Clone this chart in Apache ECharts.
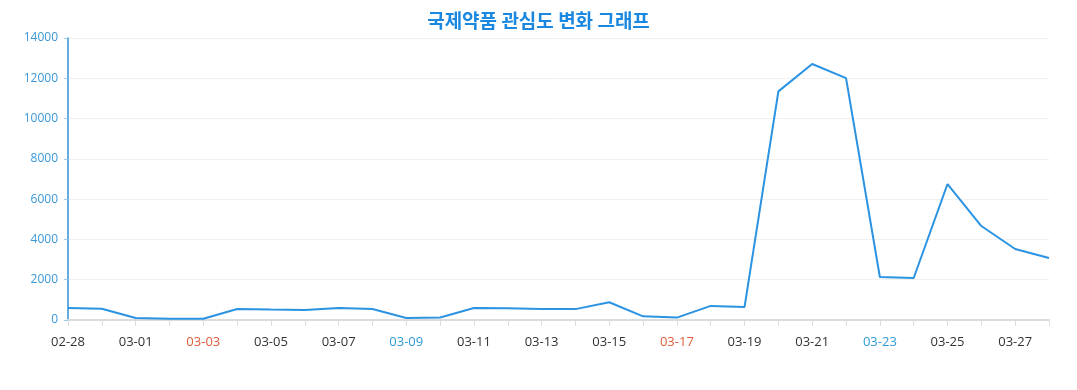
<!DOCTYPE html>
<html>
<head>
<meta charset="utf-8">
<script src="https://cdn.jsdelivr.net/npm/echarts@6/dist/echarts.min.js"></script>
<style>html,body{margin:0;padding:0;background:#fff;}#c{width:1077px;height:390px;}</style>
</head>
<body>
<div id="c"></div>
<script>
const titleText = '국제약품 관심도 변화 그래프';
const categories = ['02-28','02-29','03-01','03-02','03-03','03-04','03-05','03-06','03-07','03-08','03-09','03-10','03-11','03-12','03-13','03-14','03-15','03-16','03-17','03-18','03-19','03-20','03-21','03-22','03-23','03-24','03-25','03-26','03-27','03-28'];
const values = [600,560,100,60,60,550,520,500,600,550,100,120,600,580,550,540,880,180,120,700,650,11350,12710,12010,2135,2085,6750,4665,3525,3080];
const redLabels = ['03-03','03-17'];
const blueLabels = ['03-09','03-23'];

const chart = echarts.init(document.getElementById('c'));
const fontFamily = '"Open Sans","Noto Sans","Noto Sans CJK KR",sans-serif';
chart.setOption({
  animation: false,
  title: {
    text: titleText, left: 'center', top: 6,
    textStyle: { color: '#1a88e0', fontSize: 19, fontWeight: 'bold', fontFamily: '"Noto Sans CJK KR",sans-serif' }
  },
  grid: { left: 68, right: 28, top: 38, bottom: 70 },
  xAxis: {
    type: 'category', data: categories, boundaryGap: false,
    axisLine: { lineStyle: { color: '#dcdcdc', width: 2 } },
    axisTick: { alignWithLabel: true, interval: 0, length: 6, lineStyle: { color: '#dcdcdc' } },
    axisLabel: {
      interval: 1, margin: 16, fontSize: 13, fontFamily: fontFamily, color: '#333',
      formatter: function (v) {
        if (redLabels.indexOf(v) >= 0) return '{r|' + v + '}';
        if (blueLabels.indexOf(v) >= 0) return '{b|' + v + '}';
        return v;
      },
      rich: {
        r: { color: '#e05a3a', fontSize: 13, fontFamily: fontFamily },
        b: { color: '#2e9ad6', fontSize: 13, fontFamily: fontFamily }
      }
    }
  },
  yAxis: {
    type: 'value', min: 0, max: 14000, interval: 2000,
    axisLine: { show: true, lineStyle: { color: '#2e90d8', width: 1.5 } },
    axisTick: { show: true, length: 4, lineStyle: { color: '#9cc8ea' } },
    axisLabel: { color: '#3a98d8', fontSize: 12, fontFamily: fontFamily, margin: 10, formatter: function (v) { return String(v); } },
    splitLine: { lineStyle: { color: '#f0f0f0' } }
  },
  series: [{
    type: 'line', data: values, symbol: 'none',
    lineStyle: { color: '#2b93e2', width: 2 },
    itemStyle: { color: '#2b93e2' }
  }]
});
</script>
</body>
</html>
